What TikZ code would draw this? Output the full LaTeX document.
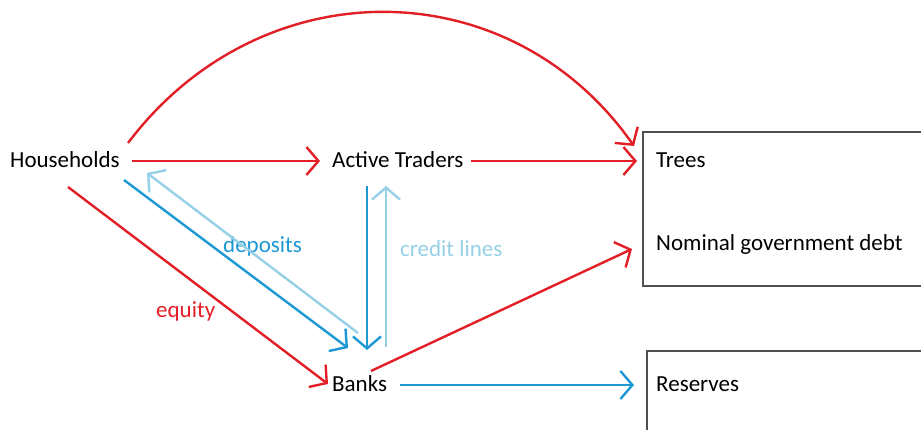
\documentclass[tikz,border=0pt]{standalone}
\usepackage{fontspec}
\setmainfont{Carlito}
\usetikzlibrary{arrows.meta}
\definecolor{cred}{RGB}{226,30,38}
\definecolor{cblue}{RGB}{28,152,212}
\definecolor{clight}{RGB}{150,208,230}
\definecolor{cbox}{RGB}{80,80,80}
\begin{document}
\begin{tikzpicture}[x=1pt,y=-1pt,
  txt/.style={anchor=base west,inner sep=0pt,font=\fontsize{23}{26}\selectfont},
  arr/.style={line width=2.4pt,-{Straight Barb[length=12pt,width=28pt,line width=2.4pt]}},
  boxline/.style={draw=cbox,line width=1.2pt}]
\useasboundingbox (0,0) rectangle (921,430);
% boxes
\draw[boxline] (921,132) -- (643,132) -- (643,286) -- (921,286);
\draw[boxline] (921,351) -- (647,351) -- (647,431);
% nodes
\node[txt] (hh) at (10,168) {Households};
\node[txt] (at) at (332,168) {Active Traders};
\node[txt] (bk) at (332,391) {Banks};
\node[txt] (tr) at (656,168) {Trees};
\node[txt] (ng) at (656,251) {Nominal government debt};
\node[txt] (rs) at (656,391) {Reserves};
\node[txt,text=cblue] (ldep) at (223,253) {deposits};
\node[txt,text=cred] (leq) at (156,318) {equity};
\node[txt,text=clight] (lcr) at (400,257) {credit lines};
% connector end points
\coordinate (hhA) at (132,161); \coordinate (atA) at (320,161);
\coordinate (atB) at (471,161); \coordinate (trA) at (637,161);
\coordinate (hhC) at (128,143); \coordinate (trC) at (634,146);
\coordinate (hhE) at (68,187);  \coordinate (bkE) at (328,384);
\coordinate (hhD) at (124,180); \coordinate (bkD) at (348,348);
\coordinate (bkL) at (358,333); \coordinate (hhL) at (147,173);
\coordinate (atV) at (367,186); \coordinate (bkV) at (367,350);
\coordinate (bkW) at (386,347); \coordinate (atW) at (386,186);
\coordinate (bkN) at (371,371); \coordinate (ngN) at (632,249);
\coordinate (bkR) at (400,385); \coordinate (rsR) at (634,385);
% connectors
\draw[arr,cred] (hhA) -- (atA);
\draw[arr,cred] (atB) -- (trA);
\draw[arr,cred] (hhC) .. controls (260,-32) and (509,-32) .. (trC);
\draw[arr,cred] (hhE) -- (bkE);
\draw[arr,clight] (bkL) -- (hhL);
\draw[arr,cblue] (hhD) -- (bkD);
\draw[arr,cblue] (atV) -- (bkV);
\draw[arr,clight] (bkW) -- (atW);
\draw[arr,cred] (bkN) -- (ngN);
\draw[arr,cblue] (bkR) -- (rsR);
\end{tikzpicture}
\end{document}
